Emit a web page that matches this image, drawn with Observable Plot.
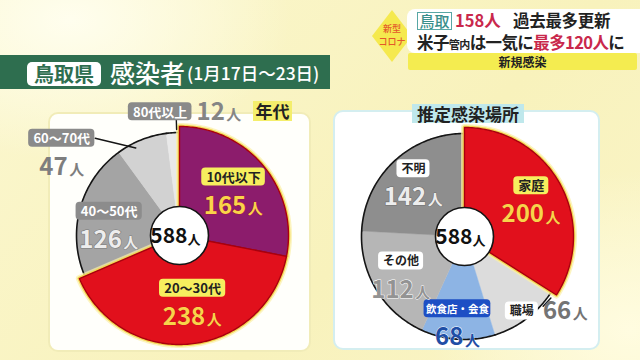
<!DOCTYPE html>
<html><head><meta charset="utf-8">
<script src="https://cdn.jsdelivr.net/npm/d3@7"></script>
<script src="https://cdn.jsdelivr.net/npm/@observablehq/plot@0.6"></script>
<style>
html,body{margin:0;padding:0;}
body{width:640px;height:360px;overflow:hidden;position:relative;font-family:"Noto Sans CJK JP","Noto Sans",sans-serif;
 background: radial-gradient(ellipse 220px 140px at 70px 20px,#FFFEEE 0%,rgba(255,255,255,0) 100%),
 radial-gradient(ellipse 200px 160px at 630px 330px,#FFFCE0 0%,rgba(255,255,255,0) 100%),
 linear-gradient(135deg,#FBF7CF 0%,#F8F2BC 60%,#FAF5C8 100%);}
.abs{position:absolute;}
#hdr{left:0;top:55px;width:330px;height:34px;background:#2E6E4F;}
#pref{left:27px;top:62px;width:74px;height:24px;background:#fff;border-radius:5px;color:#2E6E4F;font-weight:700;font-size:20px;line-height:24px;text-align:center;}
#ttl{left:110px;top:55px;height:34px;line-height:34px;color:#fff;font-size:25px;font-weight:500;}
#dt{left:187px;top:55px;height:34px;line-height:36px;color:#fff;font-size:17.5px;font-weight:500;white-space:nowrap;}
#dia{left:372px;top:10px;width:40px;height:52px;}
#dia .shape{position:absolute;left:0;top:0;width:40px;height:52px;background:#F5E94E;clip-path:polygon(50% 0,100% 50%,50% 100%,0 50%);}
#dia .t{position:absolute;left:0;width:40px;text-align:center;color:#E35A2A;font-size:9px;line-height:10px;height:10px;font-weight:500;}
#news{left:407px;top:9px;width:233px;height:44px;background:#fff;border-radius:8px 0 0 8px;}
.ln{position:absolute;height:20px;line-height:20px;font-size:16.5px;font-weight:700;white-space:nowrap;color:#222;}
.tt{position:absolute;left:10px;top:3px;width:33px;height:16px;border:1.5px solid #58A7A5;color:#3A8F8B;font-weight:500;font-size:15px;line-height:16px;text-align:center;}
.pk{color:#C9284C;}
.sm{font-size:11px;}
#bar{left:408px;top:53px;width:229px;height:17px;background:#F4EC50;border-radius:2px;text-align:center;font-size:12px;line-height:17px;font-weight:700;color:#222;}
#pl{left:48px;top:112px;width:259px;height:236px;background:#FFFFFB;border:2px solid #F1ECB8;border-radius:10px;}
#pr{left:333px;top:110px;width:263px;height:236px;background:#FFFFFF;border:2px solid #D4EEF0;border-radius:10px;}
#nendai{left:253px;top:101px;width:39px;height:20px;background:#F4EE6C;font-size:17px;font-weight:700;line-height:20px;text-align:center;color:#222;}
#basho{left:412px;top:104px;width:112px;height:19px;background:#BFE8EC;font-size:17px;font-weight:700;line-height:19px;text-align:center;color:#222;}
#cl{left:39px;top:95px;}
#cr{left:324px;top:96px;}
svg{overflow:visible;}
</style></head><body>
<div id="hdr" class="abs"></div>
<div id="pref" class="abs">鳥取県</div>
<div id="ttl" class="abs">感染者</div>
<div id="dt" class="abs">(1月17日～23日)</div>
<div id="dia" class="abs"><div class="shape"></div><div class="t" style="top:14px">新型</div><div class="t" style="top:27px">コロナ</div></div>
<div id="news" class="abs">
 <div class="tt">鳥取</div>
 <div class="ln pk" style="left:48px;top:1px">158人</div>
 <div class="ln" style="left:106px;top:1px;letter-spacing:-0.3px">過去最多更新</div>
 <div class="ln" style="left:10px;top:23px;letter-spacing:-0.6px">米子<span class="sm">管内</span>は一気に<span class="pk">最多120人</span>に</div>
</div>
<div id="bar" class="abs">新規感染</div>
<div id="pl" class="abs"></div>
<div id="pr" class="abs"></div>
<div id="nendai" class="abs">年代</div>
<div id="basho" class="abs">推定感染場所</div>
<div id="cl" class="abs"></div>
<div id="cr" class="abs"></div>
<script>
// ---- data ----
const ageCats = ["10代以下", "20～30代", "40～50代", "60～70代", "80代以上"];
const ageVals = [165, 238, 126, 47, 12];
const placeCats = ["家庭", "職場", "飲食店・会食", "その他", "不明"];
const placeVals = [200, 66, 68, 112, 142];
const unit = "人";

// ---- styles ----
const ageColors = ["#8C1C6C", "#E1101C", "#A4A4A4", "#D2D2D2", "#E9E9E9"];
const ageHi = [true, true, false, false, false];
const placeColors = ["#E1101C", "#DCDCDC", "#8DB4E4", "#B6B6B6", "#8E8E8E"];
const placeHi = [true, false, false, false, false];

const yBox = {box: "#F6EE5E", txt: "#222", num: "#F8D44A", numStroke: "#B0101C", sw: 0.6};
const ageLabelStyle = [
  yBox, yBox,
  {box: "#8C8C8C", txt: "#fff", num: "#EDEDED", numStroke: "#7A7A7A", sw: 1.2},
  {box: "#8A8A8A", txt: "#fff", num: "#7E7E7E", numStroke: "#fff", sw: 0},
  {box: "#8A8A8A", txt: "#fff", num: "#858585", numStroke: "#fff", sw: 0}
];
const placeLabelStyle = [
  yBox,
  {box: "#FFFFFF", txt: "#222", num: "#747474", numStroke: "#fff", sw: 0},
  {box: "#1D4FC4", txt: "#fff", num: "#1F4EA6", numStroke: "#fff", sw: 0.8},
  {box: "#FFFFFF", txt: "#222", num: "#939393", numStroke: "#fff", sw: 1},
  {box: "#FFFFFF", txt: "#222", num: "#EDEDED", numStroke: "#6E6E6E", sw: 1.2}
];
// label layout: radial factor r and angle offset da (deg) from slice mid-angle
const ageLayout = [
  {mode: "stack", r: 0.68, da: 0},
  {mode: "stack", r: 0.66, da: -5},
  {mode: "stack", r: 0.69, da: -7},
  {mode: "stack", r: 1.40, da: -33, leader: [[-4.8, 0.95], [-19.2, 1.25]]},
  {mode: "inline", r: 1.21, da: 10.8, leader: [[2.1, 1.03], [2.1, 1.14]]}
];
const placeLayout = [
  {mode: "stack", r: 0.74, da: 0},
  {mode: "inline", r: 1.04, da: -8.5, leader: [[-11.1, 1.02], [-17.2, 1.03]]},
  {mode: "stack", r: 0.84, da: 1},
  {mode: "stack", r: 0.72, da: 0},
  {mode: "stack", r: 0.72, da: 0}
];

function textW(s, fs) {
  let w = 0;
  for (const ch of s) w += ch === "・" ? fs * 0.5 : (ch.charCodeAt(0) > 255 ? fs : fs * 0.6);
  return w;
}

function piePlot({cats, vals, colors, hi, styles, layout, boxFs}) {
  const R = 103, RH = 109, deg = Math.PI / 180, NFS = 24;
  const arcs = d3.pie().sort(null).value(d => d)(vals);
  const poly = [], rim = [];
  arcs.forEach((a, i) => {
    const rr = hi[i] ? RH : R;
    const n = Math.max(2, Math.ceil((a.endAngle - a.startAngle) / deg));
    poly.push({k: i, x: 0, y: 0, c: colors[i], h: hi[i]});
    for (let j = 0; j <= n; j++) {
      const t = a.startAngle + (a.endAngle - a.startAngle) * j / n;
      poly.push({k: i, x: rr * Math.sin(t), y: -rr * Math.cos(t), c: colors[i], h: hi[i]});
      if (!hi[i]) rim.push({k: i, x: R * Math.sin(t), y: -R * Math.cos(t)});
    }
  });
  const polar = (ang, rf) => ({x: rf * R * Math.sin(ang), y: -rf * R * Math.cos(ang)});
  const boxes = [], boxTexts = [], nums = [], jins = [], leaders = [];
  arcs.forEach((a, i) => {
    const L = layout[i], S = styles[i];
    const mid = (a.startAngle + a.endAngle) / 2;
    const p = polar(mid + L.da * deg, L.r);
    const label = cats[i];
    const bw = textW(label, boxFs[i]) + 9, bh = 18;
    const numStr = String(vals[i]);
    const dw = numStr.length * NFS * 0.56, jw = 15;
    let bx, by, nx, ny;
    if (L.mode === "stack") {
      bx = p.x; by = p.y - 14; nx = p.x - (dw + jw) / 2; ny = p.y + 15;
    } else {
      bx = p.x - 3 - bw / 2; by = p.y; nx = p.x + 3; ny = p.y;
    }
    boxes.push({x1: bx - bw / 2, x2: bx + bw / 2, y1: by - bh / 2, y2: by + bh / 2, fill: S.box});
    boxTexts.push({x: bx, y: by + 0.5, t: label, fill: S.txt, fs: boxFs[i]});
    nums.push({x: nx + dw, y: ny, t: numStr, S});
    jins.push({x: nx + dw + 1.5, y: ny + 3, t: unit, S});
    if (L.leader) {
      L.leader.forEach(([d, r]) => leaders.push({k: i, ...polar(mid + d * deg, r)}));
    }
  });
  const total = d3.sum(vals);
  const hiPoly = poly.filter(d => d.h);
  const marks = [
    Plot.line(poly.filter(d => !d.h), {x: "x", y: "y", z: "k", fill: "c", stroke: "c", strokeWidth: 0.5, curve: "linear-closed"}),
    Plot.line(rim, {x: "x", y: "y", z: "k", stroke: "#151515", strokeWidth: 1.6}),
    Plot.line(hiPoly, {x: "x", y: "y", z: "k", stroke: "#FBEFA6", strokeWidth: 7, strokeOpacity: 0.7, fill: "none", curve: "linear-closed", strokeLinejoin: "round"}),
    Plot.line(hiPoly, {x: "x", y: "y", z: "k", stroke: "#F3D851", strokeWidth: 3.8, fill: "none", curve: "linear-closed", strokeLinejoin: "round"}),
    Plot.line(hiPoly, {x: "x", y: "y", z: "k", fill: "c", stroke: "#A8000E", strokeWidth: 1.4, curve: "linear-closed", strokeLinejoin: "round"}),
    Plot.line(leaders, {x: "x", y: "y", z: "k", stroke: "#151515", strokeWidth: 1.4}),
    Plot.dot([{x: 0, y: 0}], {x: "x", y: "y", r: 29, fill: "white", stroke: "#151515", strokeWidth: 1.6}),
    Plot.text([{x: 0, y: 0}], {x: "x", y: "y", text: () => String(total), textAnchor: "end", dx: 8, dy: 1, fontSize: 21, fontWeight: 700, fill: "#111", lineAnchor: "middle"}),
    Plot.text([{x: 0, y: 0}], {x: "x", y: "y", text: () => unit, textAnchor: "start", dx: 8, dy: 4, fontSize: 13, fontWeight: 700, fill: "#111", lineAnchor: "middle"}),
    Plot.rect(boxes, {x1: "x1", x2: "x2", y1: "y1", y2: "y2", fill: "fill", rx: 4})
  ];
  boxTexts.forEach(b => marks.push(Plot.text([b], {x: "x", y: "y", text: "t", fill: b.fill, fontSize: b.fs, fontWeight: 700, textAnchor: "middle", lineAnchor: "middle"})));
  nums.forEach(n => marks.push(Plot.text([n], {x: "x", y: "y", text: "t", fill: n.S.num, stroke: n.S.numStroke, strokeWidth: n.S.sw, paintOrder: "stroke", fontSize: NFS, fontWeight: 700, textAnchor: "end", lineAnchor: "middle"})));
  jins.forEach(n => marks.push(Plot.text([n], {x: "x", y: "y", text: "t", fill: n.S.num, stroke: n.S.numStroke, strokeWidth: n.S.sw * 0.8, paintOrder: "stroke", fontSize: 15, fontWeight: 700, textAnchor: "start", lineAnchor: "middle"})));
  return Plot.plot({
    width: 280, height: 265,
    marginTop: 0, marginRight: 0, marginBottom: 0, marginLeft: 0,
    x: {type: "linear", domain: [-140, 140], range: [0, 280], axis: null},
    y: {type: "linear", domain: [-140, 125], range: [0, 265], axis: null},
    color: {type: "identity"},
    style: {background: "transparent", fontFamily: "'Noto Sans CJK JP', sans-serif", overflow: "visible"},
    marks
  });
}

document.getElementById("cl").appendChild(piePlot({
  cats: ageCats, vals: ageVals, colors: ageColors, hi: ageHi,
  styles: ageLabelStyle, layout: ageLayout, boxFs: [13, 13, 13, 13, 13]
}));
document.getElementById("cr").appendChild(piePlot({
  cats: placeCats, vals: placeVals, colors: placeColors, hi: placeHi,
  styles: placeLabelStyle, layout: placeLayout, boxFs: [13, 12, 10.5, 12, 12]
}));
</script>
</body></html>
